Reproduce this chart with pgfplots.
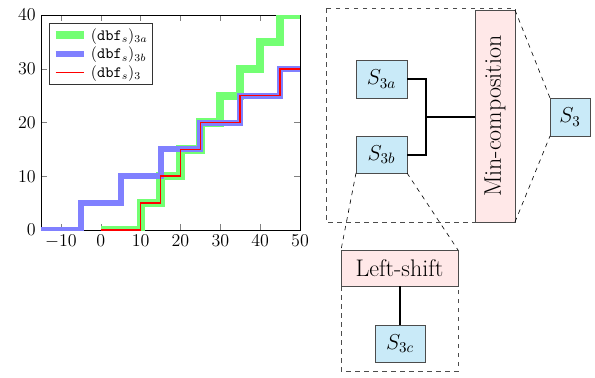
\documentclass[border=0pt]{standalone}
\usepackage{pgfplots}
\pgfplotsset{compat=1.18}
\definecolor{bluec}{RGB}{201,234,248}
\definecolor{pinkc}{RGB}{255,232,232}
\begin{document}
\begin{tikzpicture}
\begin{scope}[x=0.66667pt, y=-0.66667pt, shift={(-27.333pt,153.333pt)}]
\useasboundingbox (0,0) rectangle (595,377);
\end{scope}
\begin{axis}[
  at={(0,0)}, anchor=south west,
  scale only axis, width=172.7pt, height=143.3pt,
  xmin=-15, xmax=50, ymin=0, ymax=40,
  xtick={-10,0,10,20,30,40,50}, ytick={0,10,20,30,40},
  tick label style={font=\fontsize{13}{15}\selectfont},
  legend style={at={(0.03,0.965)}, anchor=north west, font=\fontsize{10.5}{12}\selectfont, draw=black!80, semithick, inner sep=1.5pt, row sep=-1pt},
  legend cell align=left,
  legend image post style={xscale=1.1},
]
\addplot[const plot, draw=green!55, line width=5.5pt] coordinates {(0,0) (10,5) (15,10) (20,15) (25,20) (30,25) (35,30) (40,35) (45,40) (50,40)};
\addlegendentry{(\texttt{dbf}$_s$)$_{3a}$}
\addplot[const plot, draw=blue!50, line width=4pt] coordinates {(-15,0) (-5,5) (5,10) (15,15) (25,20) (35,25) (45,30) (50,30)};
\addlegendentry{(\texttt{dbf}$_s$)$_{3b}$}
\addplot[const plot, draw=red, line width=1.1pt] coordinates {(0,0) (10,5) (15,10) (20,15) (25,20) (35,25) (45,30) (50,30)};
\addlegendentry{(\texttt{dbf}$_s$)$_{3}$}
\end{axis}
\begin{scope}[x=0.66667pt, y=-0.66667pt, shift={(-27.333pt,153.333pt)}]
\draw[dashed, black!70] (326,8) rectangle (515,222);
\draw[dashed, black!70] (341,250) rectangle (458,371);
\draw[fill=pinkc, draw=black!70] (475,10) rectangle (515,222);
\node[rotate=90, font=\fontsize{16}{18}\selectfont] at (495,116) {Min-composition};
\draw[fill=bluec, draw=black!70] (356,60) rectangle (407,98);
\node[font=\Large] at (381.5,79) {$S_{3a}$};
\draw[fill=bluec, draw=black!70] (356,136) rectangle (407,173);
\node[font=\Large] at (381.5,154.5) {$S_{3b}$};
\draw[fill=bluec, draw=black!70] (550,98) rectangle (590,136);
\node[font=\Large] at (570,117) {$S_{3}$};
\draw[fill=pinkc, draw=black!70] (341,250) rectangle (458,286);
\node[font=\fontsize{16}{18}\selectfont] at (399.5,268) {Left-shift};
\draw[fill=bluec, draw=black!70] (375,325) rectangle (425,362);
\node[font=\Large] at (400,343.5) {$S_{3c}$};
\draw[thick] (407,79) -- (426,79) -- (426,155) -- (407,155);
\draw[thick] (426,117) -- (475,117);
\draw[thick] (400,286) -- (400,325);
\draw[dashed] (356,173) -- (341,250);
\draw[dashed] (407,173) -- (458,250);
\draw[dashed] (515,10) -- (550,98);
\draw[dashed] (515,222) -- (550,136);
\end{scope}
\end{tikzpicture}
\end{document}
